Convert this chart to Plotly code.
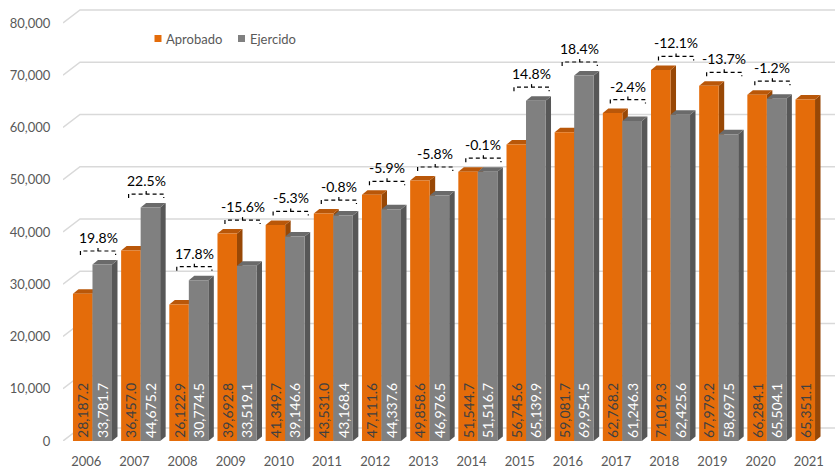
import numpy as np
import plotly.graph_objects as go

# ---------------- data ----------------
years = ['2006', '2007', '2008', '2009', '2010', '2011', '2012', '2013',
         '2014', '2015', '2016', '2017', '2018', '2019', '2020', '2021']
aprobado = [28187.2, 36457.0, 26122.9, 39692.8, 41349.7, 43531.0, 47111.6, 49858.6,
            51544.7, 56745.6, 59081.7, 62768.2, 71019.3, 67979.2, 66284.1, 65351.1]
ejercido = [33781.7, 44675.2, 30774.5, 33519.1, 39146.6, 43168.4, 44337.6, 46976.5,
            51516.7, 65139.9, 69954.5, 61246.3, 62425.6, 58697.5, 65504.1, None]
variacion = ['19.8%', '22.5%', '17.8%', '-15.6%', '-5.3%', '-0.8%', '-5.9%', '-5.8%',
             '-0.1%', '14.8%', '18.4%', '-2.4%', '-12.1%', '-13.7%', '-1.2%', None]
y_ticks = [0, 10000, 20000, 30000, 40000, 50000, 60000, 70000, 80000]
series_names = ['Aprobado', 'Ejercido']

# ---------------- geometry / style ----------------
FONT = "Lato"
ML, MB, W_FIG, H_FIG = 63, 27, 835, 468
PLOT_W, PLOT_H = W_FIG - ML, H_FIG - MB
PXX = 48.17                     # px per category unit
XR = [-0.612, -0.612 + PLOT_W / PXX]
YR = [0, 80000 * PLOT_H / 418]
PXY = PLOT_H / YR[1]            # px per value unit
W = 0.405                       # bar width (units)
DX = 5.5 / PXX                  # 3D depth offset x
DY = 4.5 / PXY                  # 3D depth offset y

OR_FRONT, OR_TOP, OR_SIDE = '#E46C0A', '#B95709', '#984806'
GR_FRONT, GR_TOP, GR_SIDE = '#808080', '#6A6A6A', '#575757'

idx = np.arange(len(years))
x_or = idx - W / 2
x_gr = idx + W / 2

fig = go.Figure()

# back-wall gridlines (below everything)
for v in y_ticks:
    yb = v + 13 / PXY
    fig.add_shape(type='path', xref='x', yref='y', layer='below',
                  path=f'M {XR[0]},{v} L {XR[0] + 17 / PXX},{yb} L {XR[1]},{yb}',
                  line=dict(color='#D9D9D9', width=1.5))


def add_faces(xc, vals, top, side):
    for c, h in zip(xc, vals):
        if h is None:
            continue
        xl, xr = c - W / 2, c + W / 2
        fig.add_shape(type='path', xref='x', yref='y', layer='below',
                      path=f'M {xr},0 L {xr + DX},{DY} L {xr + DX},{h + DY} L {xr},{h} Z',
                      fillcolor=side, line=dict(width=0))
        fig.add_shape(type='path', xref='x', yref='y', layer='below',
                      path=f'M {xl},{h} L {xl + DX},{h + DY} L {xr + DX},{h + DY} L {xr},{h} Z',
                      fillcolor=top, line=dict(width=0))


add_faces(x_or, aprobado, OR_TOP, OR_SIDE)
add_faces(x_gr, ejercido, GR_TOP, GR_SIDE)


def add_bars(xc, vals, name, front, txtcol):
    fig.add_trace(go.Bar(x=xc, y=vals, width=W, name=name,
                         marker=dict(color=front, line=dict(width=0)),
                         texttemplate='%{y:,.1f}', textposition='inside', insidetextanchor='start',
                         textangle=-90, constraintext='none', showlegend=False,
                         textfont=dict(family=FONT, size=14, color=txtcol)))


add_bars(x_or, aprobado, series_names[0], OR_FRONT, '#404040')
add_bars(x_gr, ejercido, series_names[1], GR_FRONT, '#FFFFFF')

# variation brackets and labels
bx, by = [], []
for i, lab in enumerate(variacion):
    if lab is None:
        continue
    top = max(aprobado[i], ejercido[i])
    yb = top + 13.5 / PXY
    c = i + 0.115
    hw = 0.365
    bx += [c - hw, c - hw, c + hw, c + hw, None, c, c, None]
    by += [yb - 4 / PXY, yb, yb, yb - 4 / PXY, None, yb, yb + 3 / PXY, None]
    fig.add_annotation(x=c, y=yb, text=lab, showarrow=False, yanchor='bottom', yshift=3,
                       font=dict(family=FONT, size=14, color='#000000'))
fig.add_trace(go.Scatter(x=bx, y=by, mode='lines', line=dict(color='#000000', width=1.2, dash='4px,3px'),
                         hoverinfo='skip', showlegend=False))

# legend (drawn manually to match the compact Excel legend)
def px2paper(px, py):
    return (px - ML) / PLOT_W, (PLOT_H - py) / PLOT_H


for (sx, tx), name, col in zip([(154.5, 164), (238, 248)], series_names, [OR_FRONT, GR_FRONT]):
    x0, y0 = px2paper(sx, 42)
    x1, y1 = px2paper(sx + 7, 35)
    fig.add_shape(type='rect', xref='paper', yref='paper', x0=x0, x1=x1, y0=y0, y1=y1,
                  fillcolor=col, line=dict(width=0))
    ax, ay = px2paper(tx, 39)
    fig.add_annotation(xref='paper', yref='paper', x=ax, y=ay, text=name, showarrow=False,
                       xanchor='left', yanchor='middle',
                       font=dict(family=FONT, size=13, color='#595959'))

fig.update_layout(
    width=W_FIG, height=H_FIG,
    margin=dict(l=ML, r=0, t=0, b=MB, autoexpand=False),
    paper_bgcolor='white', plot_bgcolor='white',
    barmode='overlay',
    showlegend=False,
    xaxis=dict(range=XR, tickvals=idx - 0.13, ticktext=years, showgrid=False, zeroline=False,
               showline=False, ticks='outside', ticklen=8, tickcolor='rgba(0,0,0,0)',
               tickfont=dict(family=FONT, size=13, color='#595959')),
    yaxis=dict(range=YR, tickvals=y_ticks, tickformat=',', showgrid=False, zeroline=False,
               showline=False, ticks='outside', ticklen=9, tickcolor='rgba(0,0,0,0)',
               tickfont=dict(family=FONT, size=13, color='#595959')),
    font=dict(family=FONT),
)

fig.write_html("out.html", config={'displayModeBar': False},
               post_script="document.body.style.margin='0';")
